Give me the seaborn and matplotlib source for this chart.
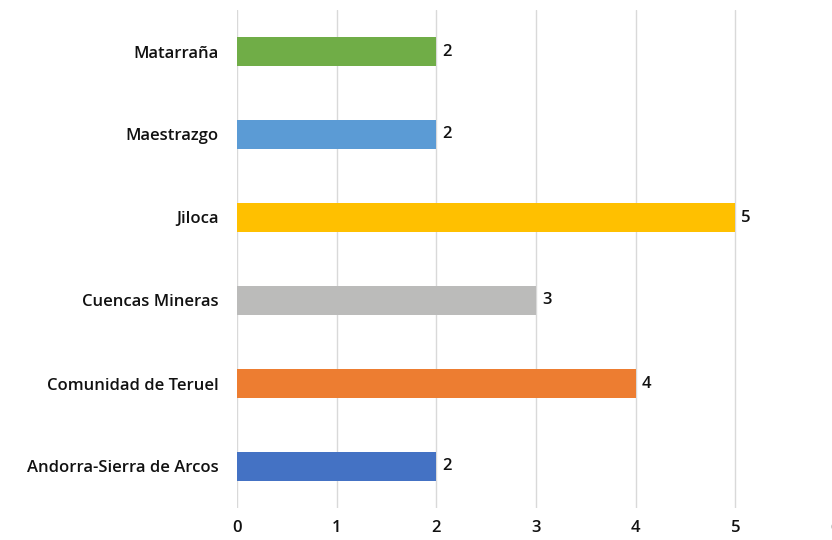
import pandas as pd
import matplotlib.pyplot as plt
import seaborn as sns

# Data
comarcas = ["Matarraña", "Maestrazgo", "Jiloca", "Cuencas Mineras",
            "Comunidad de Teruel", "Andorra-Sierra de Arcos"]
valores = [2, 2, 5, 3, 4, 2]
colores = ["#70AD47", "#5B9BD5", "#FFC000", "#BBBBBA", "#ED7D31", "#4472C4"]
x_ticks = [0, 1, 2, 3, 4, 5, 6]

df = pd.DataFrame({"Comarca": comarcas, "Valor": valores})

sns.set_style("white")
plt.rcParams['font.family'] = ['Open Sans', 'DejaVu Sans']

fig = plt.figure(figsize=(8.32, 5.4), dpi=100)
ax = fig.add_axes([237 / 832, 32 / 540, 598 / 832, 498 / 540])

sns.barplot(data=df, x="Valor", y="Comarca", hue="Comarca", palette=colores,
            legend=False, width=0.36, saturation=1, linewidth=0, ax=ax, zorder=3)

for i, v in enumerate(valores):
    ax.text(v + 0.06, i, str(v), va="center", ha="left",
            fontsize=12, fontweight="semibold", color="#111111")

ax.set_xlim(0, 6)
ax.set_ylim(5.5, -0.5)
ax.set_xticks(x_ticks)
ax.xaxis.grid(True, color="#D9D9D9", linewidth=1, zorder=0)
ax.yaxis.grid(False)
for s in ax.spines.values():
    s.set_visible(False)
ax.tick_params(axis="both", length=0, labelsize=12, colors="#111111")
ax.tick_params(axis="y", pad=13)
ax.tick_params(axis="x", pad=9)
for lbl in ax.get_xticklabels() + ax.get_yticklabels():
    lbl.set_fontweight("semibold")
ax.set_xlabel("")
ax.set_ylabel("")

fig.savefig("out.png", dpi=100)
plt.close()
